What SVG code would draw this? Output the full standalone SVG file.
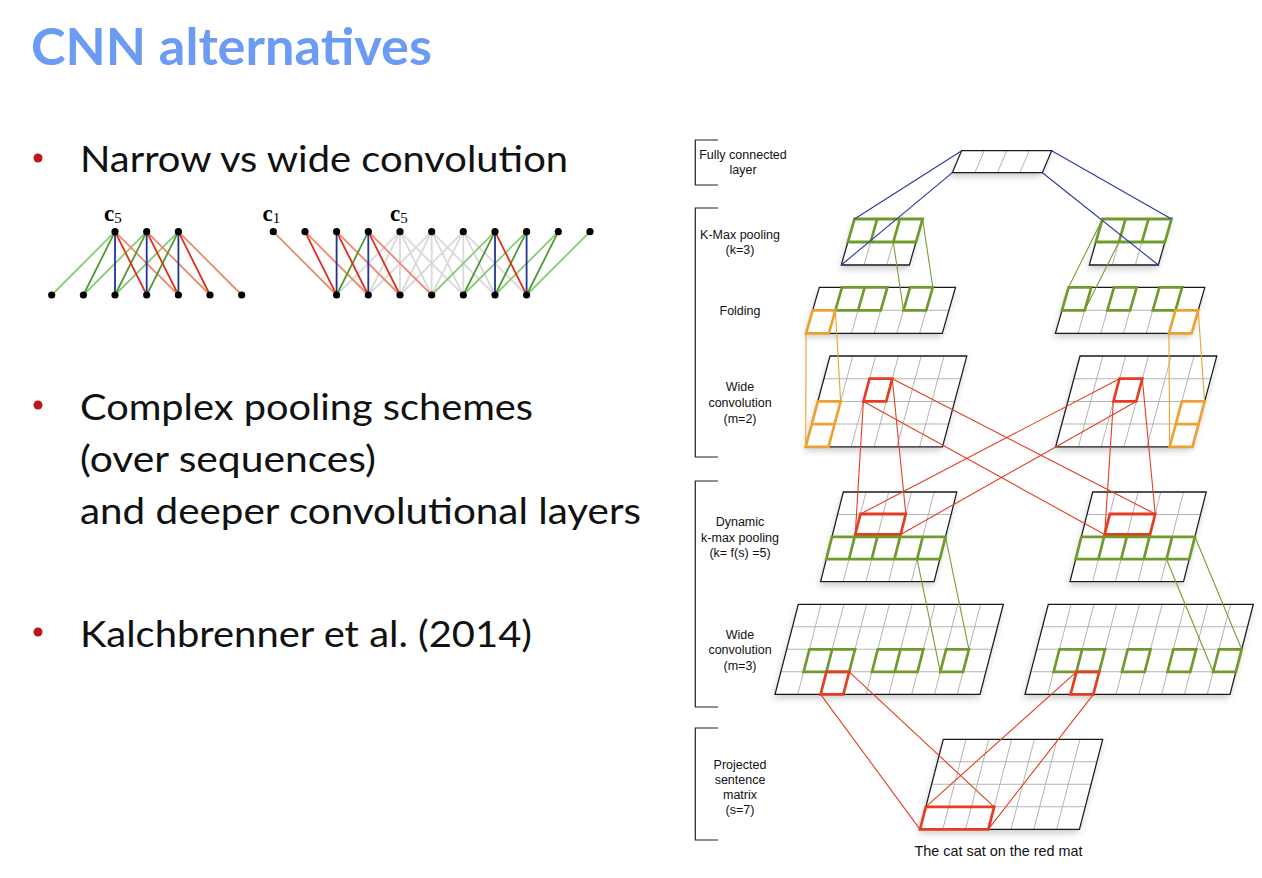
<svg xmlns="http://www.w3.org/2000/svg" width="1262" height="878" viewBox="0 0 1262 878">
<defs>
<filter id="sh" x="-20%" y="-20%" width="140%" height="170%"><feDropShadow dx="0" dy="4" stdDeviation="3.5" flood-color="#000" flood-opacity="0.2"/></filter>
<style>
.bg{fill:#fff;filter:url(#sh)}
.gl{stroke:#b4b4b4;stroke-width:1;fill:none}
.bd{stroke:#1a1a1a;stroke-width:1.3;fill:none}
.hg{stroke:#6f9b2c;stroke-width:2.8;fill:none}
.ho{stroke:#eea133;stroke-width:2.8;fill:none}
.hr{stroke:#e43d22;stroke-width:2.8;fill:none}
.cb{stroke:#2639a3;stroke-width:1.1;fill:none}
.cg{stroke:#74a02e;stroke-width:1.1;fill:none}
.co{stroke:#eea133;stroke-width:1.1;fill:none}
.cr{stroke:#e43d22;stroke-width:1.1;fill:none}
.lbl{font-family:"Liberation Sans",Arial,sans-serif;font-size:12.5px;fill:#111;text-anchor:middle}
.cap{font-family:"Liberation Sans",Arial,sans-serif;font-size:14.4px;fill:#111;text-anchor:middle}
.brk{stroke:#222;stroke-width:1.2;fill:none}
.slide{font-family:Lato,"Open Sans",sans-serif;font-size:36px;fill:#111}
.bul{fill:#c0141b}
.e{stroke-width:1.8;fill:none}
.lg{stroke:#8dc87a}.dg{stroke:#4f9a32}.bl{stroke:#1c3596}.rd{stroke:#e0301c}.sa{stroke:#ec8a72}.gy{stroke:#d9d9d9}
.nd{fill:#000}
.cm{font-family:"Liberation Serif","DejaVu Serif",serif;fill:#000}
</style>
</defs>
<rect width="1262" height="878" fill="#fff"/>

<g id="title"><text x="31" y="65" font-family="Lato,'Open Sans',sans-serif" font-weight="bold" font-size="51" fill="#6b9bf2" textLength="401" lengthAdjust="spacingAndGlyphs">CNN alternatives</text></g>

<g id="bullet1"><circle class="bul" cx="38" cy="158" r="4.5"/><text class="slide" x="80" y="172" textLength="488" lengthAdjust="spacingAndGlyphs">Narrow vs wide convolution</text></g>
<g id="bullet2"><circle class="bul" cx="38" cy="405" r="4.5"/>
<text class="slide" x="80" y="420" textLength="453" lengthAdjust="spacingAndGlyphs">Complex pooling schemes</text>
<text class="slide" x="80" y="472" textLength="296" lengthAdjust="spacingAndGlyphs">(over sequences)</text>
<text class="slide" x="80" y="524" textLength="561" lengthAdjust="spacingAndGlyphs">and deeper convolutional layers</text></g>
<g id="bullet3"><circle class="bul" cx="38" cy="632" r="4.5"/><text class="slide" x="80" y="647" textLength="452" lengthAdjust="spacingAndGlyphs">Kalchbrenner et al. (2014)</text></g>

<g id="narrow-conv">
<path class="e lg" d="M115 231.7L51.7 295M146.7 231.7L83.4 295M178.4 231.7L115 295"/>
<path class="e sa" d="M115 231.7L178.4 295M146.7 231.7L210 295M178.4 231.7L241.7 295"/>
<path class="e dg" d="M115 231.7L83.4 295M146.7 231.7L115 295M178.4 231.7L146.7 295"/>
<path class="e rd" d="M115 231.7L146.7 295M146.7 231.7L178.4 295M178.4 231.7L210 295"/>
<path class="e bl" d="M115 231.7V295M146.7 231.7V295M178.4 231.7V295"/>
<g class="nd"><circle cx="115" cy="231.7" r="3.6"/><circle cx="146.7" cy="231.7" r="3.6"/><circle cx="178.4" cy="231.7" r="3.6"/>
<circle cx="51.7" cy="295" r="3.6"/><circle cx="83.4" cy="295" r="3.6"/><circle cx="115" cy="295" r="3.6"/><circle cx="146.7" cy="295" r="3.6"/><circle cx="178.4" cy="295" r="3.6"/><circle cx="210" cy="295" r="3.6"/><circle cx="241.7" cy="295" r="3.6"/></g>
<text class="cm" x="104" y="221" font-size="23" font-weight="bold">c<tspan font-weight="normal" font-size="15" dy="2">5</tspan></text>
</g>

<g id="wide-conv">
<path class="e gy" d="M400 231.7L336.6 295M400 231.7L368.3 295M400 231.7L400 295M400 231.7L431.7 295M400 231.7L463.3 295M431.7 231.7L368.3 295M431.7 231.7L400 295M431.7 231.7L431.7 295M431.7 231.7L463.3 295M431.7 231.7L495 295M463.3 231.7L400 295M463.3 231.7L431.7 295M463.3 231.7L463.3 295M463.3 231.7L495 295M463.3 231.7L526.6 295"/>
<path class="e lg" d="M495 231.7L431.7 295M526.6 231.7L463.3 295M558.3 231.7L495 295M590 231.7L526.6 295"/>
<path class="e sa" d="M273.3 231.7L336.6 295M305 231.7L368.3 295M336.6 231.7L400 295M368.3 231.7L431.7 295"/>
<path class="e dg" d="M368.3 231.7L336.6 295M495 231.7L463.3 295M526.6 231.7L495 295M558.3 231.7L526.6 295"/>
<path class="e rd" d="M305 231.7L336.6 295M336.6 231.7L368.3 295M368.3 231.7L400 295M495 231.7L526.6 295"/>
<path class="e bl" d="M336.6 231.7V295M368.3 231.7V295M495 231.7V295M526.6 231.7V295"/>
<g class="nd"><circle cx="273.3" cy="231.7" r="3.6"/><circle cx="305" cy="231.7" r="3.6"/><circle cx="336.6" cy="231.7" r="3.6"/><circle cx="368.3" cy="231.7" r="3.6"/><circle cx="400" cy="231.7" r="3.6"/><circle cx="431.7" cy="231.7" r="3.6"/><circle cx="463.3" cy="231.7" r="3.6"/><circle cx="495" cy="231.7" r="3.6"/><circle cx="526.6" cy="231.7" r="3.6"/><circle cx="558.3" cy="231.7" r="3.6"/><circle cx="590" cy="231.7" r="3.6"/>
<circle cx="336.6" cy="295" r="3.6"/><circle cx="368.3" cy="295" r="3.6"/><circle cx="400" cy="295" r="3.6"/><circle cx="431.7" cy="295" r="3.6"/><circle cx="463.3" cy="295" r="3.6"/><circle cx="495" cy="295" r="3.6"/><circle cx="526.6" cy="295" r="3.6"/></g>
<text class="cm" x="262.5" y="221" font-size="23" font-weight="bold">c<tspan font-weight="normal" font-size="15" dy="2">1</tspan></text>
<text class="cm" x="390" y="221" font-size="23" font-weight="bold">c<tspan font-weight="normal" font-size="15" dy="2">5</tspan></text>
</g>

<g id="labels">
<path class="brk" d="M718 140H695.3V185H718"/>
<path class="brk" d="M718 208H695.3V457H718"/>
<path class="brk" d="M718 481H695.3V707H718"/>
<path class="brk" d="M718 728H695.3V840H718"/>
</g>
<g id="label-fc"><text class="lbl" x="743" y="158.5">Fully connected</text><text class="lbl" x="743" y="173.5">layer</text></g>
<g id="label-kmax"><text class="lbl" x="740" y="238.5">K-Max pooling</text><text class="lbl" x="740" y="253.5">(k=3)</text></g>
<g id="label-fold"><text class="lbl" x="740" y="314.5">Folding</text></g>
<g id="label-conv2"><text class="lbl" x="740" y="390.5">Wide</text><text class="lbl" x="740" y="406.5">convolution</text><text class="lbl" x="740" y="422.5">(m=2)</text></g>
<g id="label-dyn"><text class="lbl" x="740" y="526">Dynamic</text><text class="lbl" x="740" y="541.5">k-max pooling</text><text class="lbl" x="740" y="556.5">(k= f(s) =5)</text></g>
<g id="label-conv3"><text class="lbl" x="740" y="638.5">Wide</text><text class="lbl" x="740" y="654">convolution</text><text class="lbl" x="740" y="669.5">(m=3)</text></g>
<g id="label-sent"><text class="lbl" x="740" y="768.5">Projected</text><text class="lbl" x="740" y="784">sentence</text><text class="lbl" x="740" y="799">matrix</text><text class="lbl" x="740" y="814">(s=7)</text></g>

<g id="fc" transform="translate(961.7,150.7) skewX(-23)">
<rect class="bg" width="90" height="22"/><path class="gl" d="M22.5 0V22M45 0V22M67.5 0V22"/><rect class="bd" width="90" height="22"/>
</g>
<g id="kmax-left" transform="translate(854.5,219) skewX(-16)">
<rect class="bg" width="68.1" height="46"/><path class="gl" d="M22.7 0V46M45.4 0V46M0 23H68.1"/><rect class="bd" width="68.1" height="46"/>
<path class="hg" d="M0 0H68.1V23H0ZM22.7 0V23M45.4 0V23"/>
</g>
<g id="kmax-right" transform="translate(1102.5,219) skewX(-16)">
<rect class="bg" width="69" height="46"/><path class="gl" d="M23 0V46M46 0V46M0 23H69"/><rect class="bd" width="69" height="46"/>
<path class="hg" d="M0 0H69V23H0ZM23 0V23M46 0V23"/>
</g>
<g id="fold-left" transform="translate(819.3,287.3) skewX(-16)">
<rect class="bg" width="136.2" height="46"/><path class="gl" d="M22.7 0V46M45.4 0V46M68.1 0V46M90.8 0V46M113.5 0V46M0 23H136.2"/><rect class="bd" width="136.2" height="46"/>
<path class="hg" d="M22.7 0H68.1V23H22.7ZM45.4 0V23M90.8 0H113.5V23H90.8Z"/>
<rect class="ho" x="0" y="23" width="22.7" height="23"/>
</g>
<g id="fold-right" transform="translate(1068.6,287.3) skewX(-16)">
<rect class="bg" width="136.2" height="46"/><path class="gl" d="M22.7 0V46M45.4 0V46M68.1 0V46M90.8 0V46M113.5 0V46M0 23H136.2"/><rect class="bd" width="136.2" height="46"/>
<path class="hg" d="M0 0H22.7V23H0ZM45.4 0H68.1V23H45.4ZM90.8 0H113.5V23H90.8Z"/>
<rect class="ho" x="113.5" y="23" width="22.7" height="23"/>
</g>
<g id="conv2-left" transform="translate(830,356) skewX(-15)">
<rect class="bg" width="136.8" height="90.8"/><path class="gl" d="M22.8 0V90.8M45.6 0V90.8M68.4 0V90.8M91.2 0V90.8M114 0V90.8M0 22.7H136.8M0 45.4H136.8M0 68.1H136.8"/><rect class="bd" width="136.8" height="90.8"/>
<path class="ho" d="M0 45.4H22.8V90.8H0ZM0 68.1H22.8"/>
<rect class="hr" x="45.6" y="22.7" width="22.8" height="22.7"/>
</g>
<g id="conv2-right" transform="translate(1080,356) skewX(-15)">
<rect class="bg" width="136.8" height="90.8"/><path class="gl" d="M22.8 0V90.8M45.6 0V90.8M68.4 0V90.8M91.2 0V90.8M114 0V90.8M0 22.7H136.8M0 45.4H136.8M0 68.1H136.8"/><rect class="bd" width="136.8" height="90.8"/>
<path class="ho" d="M114 45.4H136.8V90.8H114ZM114 68.1H136.8"/>
<rect class="hr" x="45.6" y="22.7" width="22.8" height="22.7"/>
</g>
<g id="dyn-left" transform="translate(843.3,492) skewX(-14.2)">
<rect class="bg" width="113.5" height="89.6"/><path class="gl" d="M22.7 0V89.6M45.4 0V89.6M68.1 0V89.6M90.8 0V89.6M0 22.4H113.5M0 44.8H113.5M0 67.2H113.5"/><rect class="bd" width="113.5" height="89.6"/>
<rect class="hr" x="22.7" y="22" width="45.4" height="20.5"/>
<path class="hg" d="M0 44.8H113.5V67.2H0ZM22.7 44.8V67.2M45.4 44.8V67.2M68.1 44.8V67.2M90.8 44.8V67.2"/>
</g>
<g id="dyn-right" transform="translate(1092.7,492) skewX(-14.2)">
<rect class="bg" width="113.5" height="89.6"/><path class="gl" d="M22.7 0V89.6M45.4 0V89.6M68.1 0V89.6M90.8 0V89.6M0 22.4H113.5M0 44.8H113.5M0 67.2H113.5"/><rect class="bd" width="113.5" height="89.6"/>
<rect class="hr" x="22.7" y="22" width="45.4" height="20.5"/>
<path class="hg" d="M0 44.8H113.5V67.2H0ZM22.7 44.8V67.2M45.4 44.8V67.2M68.1 44.8V67.2M90.8 44.8V67.2"/>
</g>
<g id="conv3-left" transform="translate(798.3,604.3) skewX(-14.5)">
<rect class="bg" width="205" height="90"/><path class="gl" d="M22.78 0V90M45.56 0V90M68.34 0V90M91.12 0V90M113.9 0V90M136.68 0V90M159.46 0V90M182.24 0V90M0 22.5H205M0 45H205M0 67.5H205"/><rect class="bd" width="205" height="90"/>
<path class="hg" d="M22.78 45H68.34V67.5H22.78ZM45.56 45V67.5M91.12 45H136.68V67.5H91.12ZM113.9 45V67.5M159.46 45H182.24V67.5H159.46Z"/>
<rect class="hr" x="45.56" y="67.5" width="22.78" height="22.5"/>
</g>
<g id="conv3-right" transform="translate(1048.3,604.3) skewX(-14.5)">
<rect class="bg" width="205" height="90"/><path class="gl" d="M22.78 0V90M45.56 0V90M68.34 0V90M91.12 0V90M113.9 0V90M136.68 0V90M159.46 0V90M182.24 0V90M0 22.5H205M0 45H205M0 67.5H205"/><rect class="bd" width="205" height="90"/>
<path class="hg" d="M22.78 45H68.34V67.5H22.78ZM45.56 45V67.5M91.12 45H113.9V67.5H91.12ZM136.68 45H159.46V67.5H136.68ZM182.24 45H205V67.5H182.24Z"/>
<rect class="hr" x="45.56" y="67.5" width="22.78" height="22.5"/>
</g>
<g id="sentence" transform="translate(943.3,739.3) skewX(-14.5)">
<rect class="bg" width="159.4" height="90"/><path class="gl" d="M22.77 0V90M45.54 0V90M68.31 0V90M91.08 0V90M113.85 0V90M136.62 0V90M0 22.5H159.4M0 45H159.4M0 67.5H159.4"/><rect class="bd" width="159.4" height="90"/>
<rect class="hr" x="0" y="67.5" width="68.31" height="22.5"/>
</g>
<g id="caption"><text class="cap" x="998.5" y="856">The cat sat on the red mat</text></g>

<g id="connectors">
<path class="cb" d="M961.7 150.7L854.5 219M952.4 172.7L841.3 265M1051.7 150.7L1171.5 219M1042.4 172.7L1158.3 265"/>
<path class="cg" d="M922.6 219L932.8 287.3M893.3 242L903.5 310.3M1102.5 219L1068.6 287.3M1118.9 242L1084.7 310.3"/>
<path class="co" d="M835.4 310.3L840.6 401.4M806.1 333.3L805.7 446.8M1198.2 310.3L1204.6 401.4M1168.9 333.3L1169.7 446.8"/>
<path class="cr" d="M863.4 401.4L855.25 534.5M892.3 378.7L905.8 514M892.3 378.7L1155.2 514M863.4 401.4L1104.65 534.5M1113.4 401.4L1104.65 534.5M1142.3 378.7L1155.2 514M1119.5 378.7L860.4 514M1136.2 401.4L900.65 534.5"/>
<path class="cg" d="M917.1 559.2L940.3 671.8M945.5 536.8L968.9 649.3M1166.5 559.2L1213.1 671.8M1194.9 536.8L1241.7 649.3"/>
<path class="cr" d="M820.6 694.3L920 829.3M849.2 671.8L994.1 806.8M1076.4 671.8L925.8 806.8M1093.4 694.3L988.3 829.3"/>
</g>
</svg>
